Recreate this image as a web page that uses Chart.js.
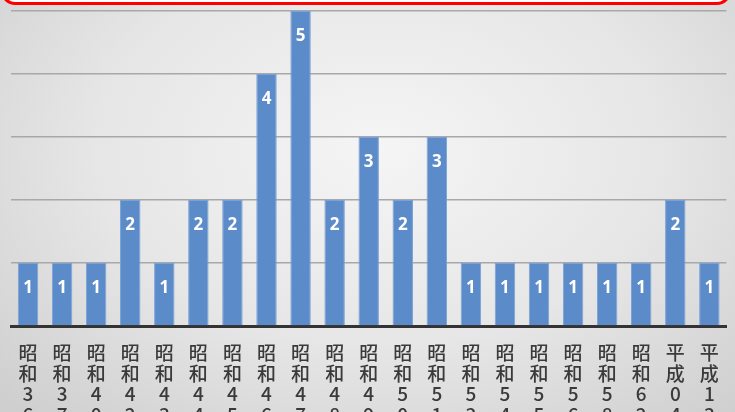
<!DOCTYPE html>
<html>
<head>
<meta charset="utf-8">
<script src="https://cdn.jsdelivr.net/npm/chart.js@4"></script>
<style>
    html, body { margin: 0; padding: 0; }
    body {
        width: 735px; height: 412px; overflow: hidden; position: relative;
        background: radial-gradient(ellipse 520px 360px at 380px 150px, #f5f5f5 0%, #e6e6e6 55%, #cfcfcf 100%);
    }
    #frame {
        position: absolute; left: 1px; top: -40px; width: 724px; height: 39px;
        border: 3px solid #ff0000; border-radius: 14px; background: #ffffff;
    }
    #wrap { position: absolute; left: 0; top: 0; width: 735px; height: 412px; }
</style>
</head>
<body>
<div id="wrap"><canvas id="chart" width="735" height="412"></canvas></div>
<div id="frame"></div>
<script>
// ---- data ----
const categories = ['昭和36', '昭和37', '昭和40', '昭和42', '昭和43', '昭和44', '昭和45',
    '昭和46', '昭和47', '昭和48', '昭和49', '昭和50', '昭和51', '昭和53', '昭和54',
    '昭和55', '昭和56', '昭和58', '昭和62', '平成04', '平成13'];
const counts = [1, 1, 1, 2, 1, 2, 2, 4, 5, 2, 3, 2, 3, 1, 1, 1, 1, 1, 1, 2, 1];
const yTicks = [0, 1, 2, 3, 4, 5];

// vertical labels: one character per line
const labels = categories.map(c => c.split(''));

// white value labels inside the bars
const valueLabels = {
    id: 'valueLabels',
    afterDatasetsDraw(chart) {
        const ctx = chart.ctx;
        const meta = chart.getDatasetMeta(0);
        ctx.save();
        ctx.fillStyle = '#ffffff';
        ctx.font = 'bold 17px "Open Sans", "Noto Sans", sans-serif';
        ctx.textAlign = 'center';
        ctx.textBaseline = 'middle';
        meta.data.forEach((bar, i) => {
            ctx.fillText(String(counts[i]), bar.x, bar.y + 25);
        });
        ctx.restore();
    }
};

new Chart(document.getElementById('chart'), {
    type: 'bar',
    data: {
        labels: labels,
        datasets: [{
            data: counts,
            backgroundColor: '#5b8bc9',
            borderColor: '#7aa2d6',
            borderWidth: 1,
            categoryPercentage: 1,
            barPercentage: 0.6
        }]
    },
    options: {
        responsive: false,
        animation: false,
        layout: { padding: { top: 11, left: 11, right: 6, bottom: 0 } },
        plugins: {
            legend: { display: false },
            tooltip: { enabled: false }
        },
        scales: {
            x: {
                grid: { display: false, drawTicks: false },
                border: { display: true, color: '#333333', width: 3 },
                ticks: {
                    autoSkip: false,
                    maxRotation: 0,
                    padding: 16,
                    color: '#3a3a3a',
                    font: { family: '"Noto Sans CJK JP", sans-serif', size: 19, weight: '500', lineHeight: 1.1 }
                },
                afterFit(scale) { scale.height = 86; }
            },
            y: {
                min: 0,
                max: 5,
                afterBuildTicks(scale) { scale.ticks = yTicks.map(v => ({ value: v })); },
                ticks: { display: false },
                grid: { color: '#a8a8a8', lineWidth: 1.5, drawTicks: false },
                border: { display: false },
                afterFit(scale) { scale.width = 0; }
            }
        }
    },
    plugins: [valueLabels]
});
</script>
</body>
</html>
